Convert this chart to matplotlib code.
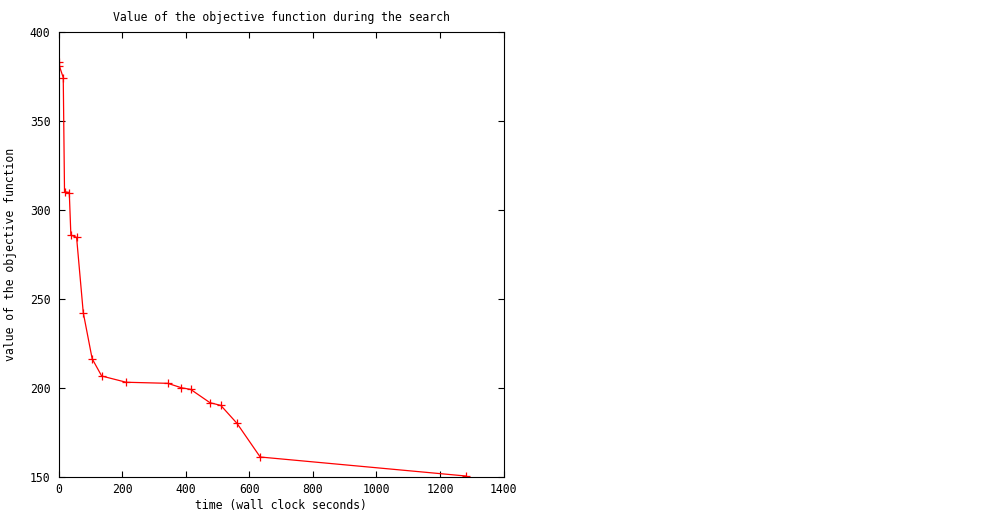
import matplotlib
matplotlib.use("Agg")
import matplotlib.pyplot as plt

time_s = [0, 2, 14, 18, 33, 38, 56, 77, 105, 135, 212, 343, 386, 415, 476, 510, 561, 634, 1283]
objective = [383.5, 381, 374.5, 310.4, 310, 286.1, 284.8, 242.5, 216.6, 206.9, 203.4, 202.8, 200.3, 199.4, 191.9, 190.4, 180.3, 161.4, 150.7]

xticks = [0, 200, 400, 600, 800, 1000, 1200, 1400]
yticks = [150, 200, 250, 300, 350, 400]

title = "Value of the objective function during the search"
xlabel = "time (wall clock seconds)"
ylabel = "value of the objective function"

plt.rcParams['font.family'] = ['DejaVu Sans Mono']
fs = 8.3

fig = plt.figure(figsize=(9.92, 5.12), dpi=100)
ax = fig.add_axes([58.8 / 992, 1 - 477.3 / 512, (503.5 - 58.8) / 992, (477.3 - 32.3) / 512])
ax.plot(time_s, objective, color='#ff0000', lw=0.9, marker='+', ms=6, mew=0.9)
ax.set_xlim(0, 1400)
ax.set_ylim(150, 400)
ax.set_xticks(xticks)
ax.set_yticks(yticks)
ax.tick_params(direction='in', length=4, width=0.8, top=True, right=True, labelsize=fs, colors='black')
ax.tick_params(axis='x', pad=4)
ax.tick_params(axis='y', pad=6)
for s in ax.spines.values():
    s.set_linewidth(0.8)
ax.set_title(title, fontsize=fs, pad=8)
ax.set_xlabel(xlabel, fontsize=fs, labelpad=2)
ax.set_ylabel(ylabel, fontsize=fs, labelpad=9)
fig.savefig("out.png", dpi=100)
